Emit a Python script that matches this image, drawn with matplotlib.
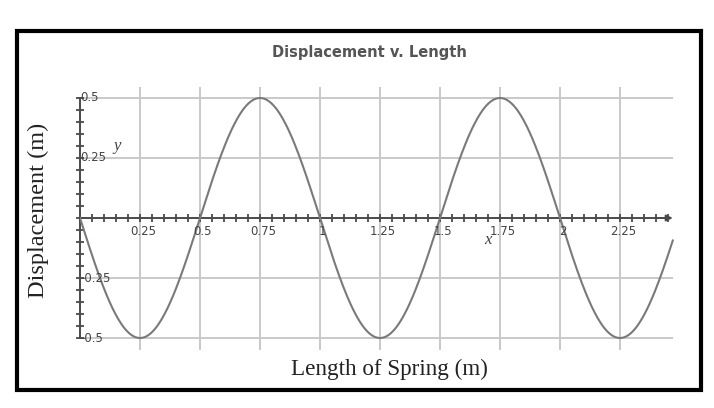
import numpy as np
import matplotlib
matplotlib.use("Agg")
import matplotlib.pyplot as plt
from matplotlib.patches import Rectangle

# valores
amplitude = 0.5          # m
wavelength = 1.0         # m
x_end = 2.47             # fin de la curva
x_ticks = [0.25, 0.5, 0.75, 1, 1.25, 1.5, 1.75, 2, 2.25]
x_tick_labels = ['0.25', '0.5', '0.75', '1', '1.25', '1.5', '1.75', '2', '2.25']
y_ticks = [0.5, 0.25, -0.25, -0.5]
y_tick_labels = ['0.5', '0.25', '-0.25', '-0.5']

x = np.linspace(0, x_end, 600)
y = -amplitude * np.sin(2 * np.pi * x / wavelength)

fig = plt.figure(figsize=(7.14, 4.08), dpi=100)
fig.set_facecolor('white')
ax = fig.add_axes([80/714, 58/408, 600/714, 264/408])
ax.set_xlim(0, 2.5)
ax.set_ylim(-0.55, 0.55)
ax.patch.set_alpha(0)

# rejilla
grid_c = '#c9c9c9'
ax.vlines(x_ticks, -0.55, 0.545, color=grid_c, lw=1.4, zorder=1)
ax.hlines(y_ticks, 0, x_end, color=grid_c, lw=1.4, zorder=1)

# curva
ax.plot(x, y, color='#7a7a7a', lw=1.5, zorder=3)

# ejes por el origen
axis_c = '#4a4a4a'
for s in ['top', 'right']:
    ax.spines[s].set_visible(False)
ax.spines['left'].set_position(('data', 0))
ax.spines['bottom'].set_position(('data', 0))
ax.spines['left'].set_bounds(-0.5, 0.5)
ax.spines['bottom'].set_bounds(0, 2.44)
ax.spines['left'].set_color(axis_c)
ax.spines['bottom'].set_color(axis_c)
ax.spines['left'].set_linewidth(1.4)
ax.spines['bottom'].set_linewidth(1.4)
ax.annotate('', xy=(x_end, 0), xytext=(2.40, 0),
            arrowprops=dict(arrowstyle='-|>', color=axis_c, lw=1.4,
                            mutation_scale=9, shrinkA=0, shrinkB=0))

ax.set_xticks(np.arange(0, 2.46, 0.05))
ax.set_yticks(np.arange(-0.5, 0.51, 0.05))
ax.set_xticklabels([])
ax.set_yticklabels([])
ax.tick_params(direction='inout', length=6, width=1.3, color=axis_c)

# etiquetas de los ticks
for xt, lab in zip(x_ticks, x_tick_labels):
    ax.text(xt + 0.012, -0.028, lab, ha='center', va='top', fontsize=8.5, color='#444444')
for yt, lab in zip(y_ticks, y_tick_labels):
    ax.text(0.0, yt, lab, ha='left', va='center', fontsize=8.5, color='#444444')

ax.text(0.155, 0.30, 'y', fontsize=12, family='Liberation Serif', style='italic',
        color='#444444', ha='center', va='center')
ax.text(1.70, -0.09, 'x', fontsize=12, family='Liberation Serif', style='italic',
        color='#444444', ha='center', va='center')

# titulo y nombres de los ejes
fig.text(369/714, 1 - 52/408, 'Displacement v. Length', ha='center', va='center',
         fontsize=10.5, fontweight='bold', color='#555555')
fig.text(389/714, 1 - 369/408, 'Length of Spring (m)', ha='center', va='center',
         fontsize=16.7, family='Liberation Serif', color='#222222')
fig.text(38/714, 1 - 210/408, 'Displacement (m)', ha='center', va='center',
         rotation=90, fontsize=17.5, family='Liberation Serif', color='#222222')

# marco negro
fig.patches.append(Rectangle((17/714, 18/408), 684/714, 359.5/408, transform=fig.transFigure,
                             fill=False, edgecolor='black', lw=3, zorder=10))

fig.savefig('out.png', dpi=100, facecolor='white')
